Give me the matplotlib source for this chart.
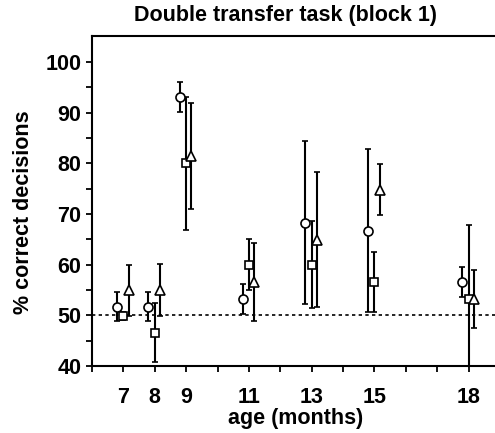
import numpy as np
import matplotlib
matplotlib.use("Agg")
import matplotlib.pyplot as plt

plt.rcParams['font.family'] = ['Liberation Sans', 'DejaVu Sans']
plt.rcParams['font.weight'] = 'bold'

ages = [7, 8, 9, 11, 13, 15, 18]
tick_labels = ['7', '8', '9', '11', '13', '15', '18']

circle_vals = [51.7, 51.7, 93.1, 53.2, 68.3, 66.7, 56.6]
circle_err = [2.8, 2.8, 2.9, 2.9, 16.0, 16.1, 2.9]
square_vals = [49.9, 46.6, 80.0, 60.0, 60.0, 56.6, 53.3]
square_err = [0.8, 5.8, 13.1, 5.0, 8.6, 5.9, 14.5]
triangle_vals = [54.9, 55.0, 81.4, 56.6, 64.9, 74.8, 53.2]
triangle_err = [5.1, 5.1, 10.4, 7.7, 13.3, 5.0, 5.7]

chance = 50

W, H = 495, 433
fig = plt.figure(figsize=(W / 100, H / 100), dpi=100)
ax = fig.add_axes([92 / W, 67 / H, 408 / W, 330 / H])

ages_arr = np.array(ages, dtype=float)
series = [
    (circle_vals, circle_err, 'o', -0.2, 6.5),
    (square_vals, square_err, 's', 0.0, 6.0),
    (triangle_vals, triangle_err, '^', 0.17, 6.5),
]
for vals, err, mk, off, ms in series:
    ax.errorbar(ages_arr + off, vals, yerr=err, fmt=mk, ms=ms,
                mfc='white', mec='black', mew=1.2, ecolor='black',
                elinewidth=1.5, capsize=2.5, capthick=1.5, zorder=3)

ax.axhline(chance, color='black', ls=(0, (2, 2)), lw=1.2, zorder=1)

ax.set_xlim(6, 19)
ax.set_ylim(40, 105.1)
ax.set_xticks(ages)
ax.set_xticklabels(tick_labels)
ax.set_xticks(range(6, 20), minor=True)
ax.set_yticks(range(40, 101, 10))
ax.set_yticks(range(45, 101, 10), minor=True)

ax.tick_params(axis='both', which='both', direction='out', width=1.3,
               labelsize=15.5)
ax.tick_params(which='major', length=4)
ax.tick_params(which='minor', length=4)
ax.tick_params(axis='x', pad=11)
for sp in ax.spines.values():
    sp.set_linewidth(1.5)

ax.set_xlabel('age (months)', fontsize=15.5, fontweight='bold', labelpad=0)
ax.set_ylabel('% correct decisions', fontsize=15.5, fontweight='bold')
ax.yaxis.set_label_coords(-0.143, 0.467)

fig.text(286 / W, 1 - 15 / H, 'Double transfer task (block 1)',
         ha='center', va='center', fontsize=15.5, fontweight='bold')

fig.savefig('out.png', dpi=100)
